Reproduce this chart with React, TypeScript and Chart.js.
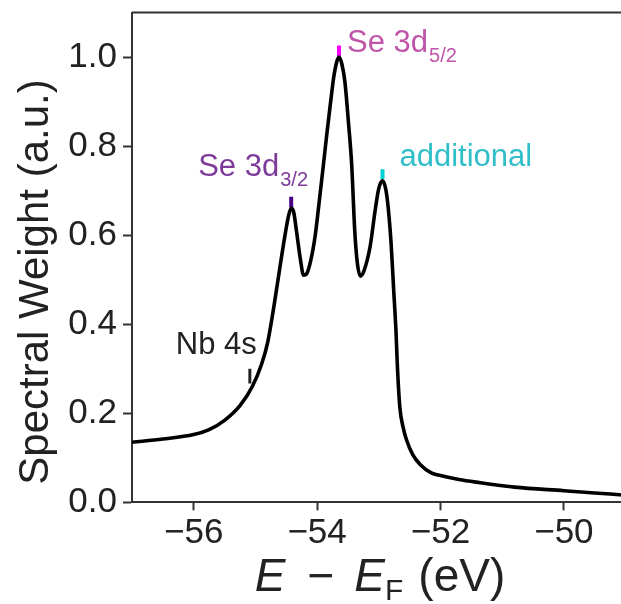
import React, { useEffect, useRef } from "react";
import { Chart, registerables } from "chart.js";

Chart.register(...registerables);

// Core-level photoemission spectrum (energy relative to E_F, in eV)
const energy = [
  -57.0, -56.5, -56.0, -55.75, -55.5, -55.25, -55.05, -54.9, -54.8, -54.7,
  -54.6, -54.52, -54.46, -54.42, -54.38, -54.33, -54.27, -54.22, -54.17, -54.1,
  -54.03, -53.97, -53.9, -53.84, -53.78, -53.73, -53.68, -53.645, -53.6, -53.55,
  -53.49, -53.44, -53.39, -53.35, -53.3, -53.24, -53.14, -53.06, -53.0, -52.94,
  -52.89, -52.85, -52.8, -52.76, -52.72, -52.7, -52.66, -52.6, -52.55, -52.45,
  -52.33, -52.15, -52.0, -51.7, -51.36, -50.8, -50.0, -49.5, -49.0,
];
const weight = [
  0.135, 0.142, 0.152, 0.163, 0.184, 0.217, 0.26, 0.31, 0.36, 0.44,
  0.53, 0.6, 0.645, 0.66, 0.652, 0.605, 0.545, 0.51, 0.513, 0.545,
  0.6, 0.67, 0.755, 0.83, 0.9, 0.955, 0.99, 1.0, 0.985, 0.945,
  0.85, 0.76, 0.61, 0.54, 0.508, 0.52, 0.575, 0.655, 0.705, 0.722,
  0.705, 0.665, 0.58, 0.48, 0.38, 0.31, 0.215, 0.165, 0.14, 0.107,
  0.085, 0.066, 0.06, 0.051, 0.044, 0.034, 0.026, 0.021, 0.016,
];

const xTicks = [-56, -54, -52, -50];
const yTicks = [0, 0.2, 0.4, 0.6, 0.8, 1.0];

// Peak markers: energy position and the short vertical bar above each feature
const markerMain = ["Nb 4s", "Se 3d", "Se 3d", "additional"];
const markerSub = ["", "3/2", "5/2", ""];
const markerEnergy = [-55.09, -54.42, -53.645, -52.94];
const markerLow = [0.267, 0.662, 1.002, 0.726];
const markerHigh = [0.3, 0.686, 1.026, 0.748];
const markerColors = ["#222222", "#4b0082", "#ff00ff", "#00cfd4"];
const labelColors = ["#222222", "#7d3a98", "#bf54a8", "#30bec8"];

// Text placement relative to the top of each marker bar (px)
const labelOffset = [
  { dx: -74, dy: -15 },
  { dx: -93, dy: -21 },
  { dx: 8, dy: 7 },
  { dx: 17, dy: -3 },
];

const FONT = "'Liberation Sans', Arial, Helvetica, sans-serif";
const INK = "#222222";

const zeroPadding = (s: any) => {
  s.paddingTop = 0;
  s.paddingBottom = 0;
  s.paddingLeft = 0;
  s.paddingRight = 0;
};

const decorations = {
  id: "decorations",
  afterDatasetsDraw(chart: any) {
    const { ctx, chartArea, scales } = chart;
    const xs = scales.x;
    const ys = scales.y;
    ctx.save();

    // top and right spines
    ctx.strokeStyle = "#333333";
    ctx.lineWidth = 2;
    ctx.beginPath();
    ctx.moveTo(chartArea.left, chartArea.top);
    ctx.lineTo(chartArea.right, chartArea.top);
    ctx.lineTo(chartArea.right, chartArea.bottom);
    ctx.stroke();

    // peak labels
    ctx.textBaseline = "alphabetic";
    ctx.textAlign = "left";
    markerMain.forEach((txt, i) => {
      const px = xs.getPixelForValue(markerEnergy[i]);
      const py = ys.getPixelForValue(markerHigh[i]);
      const x = px + labelOffset[i].dx;
      const y = py + labelOffset[i].dy;
      ctx.fillStyle = labelColors[i];
      ctx.font = `31px ${FONT}`;
      ctx.fillText(txt, x, y);
      if (markerSub[i]) {
        const w = ctx.measureText(txt).width;
        ctx.font = `20px ${FONT}`;
        ctx.fillText(markerSub[i], x + w + 1, y + 10);
      }
    });

    // y axis title
    ctx.fillStyle = INK;
    ctx.font = `42px ${FONT}`;
    ctx.save();
    ctx.translate(48, 282);
    ctx.rotate(-Math.PI / 2);
    ctx.textAlign = "center";
    ctx.fillText("Spectral Weight (a.u.)", 0, 0);
    ctx.restore();

    // x axis title: E − E_F (eV)
    const parts = [
      { t: "E", f: `italic 46px ${FONT}`, dy: 0, gap: 22 },
      { t: "\u2212", f: `46px ${FONT}`, dy: 0, gap: 20 },
      { t: "E", f: `italic 46px ${FONT}`, dy: 0, gap: 0 },
      { t: "F", f: `30px ${FONT}`, dy: 9, gap: 15 },
      { t: "(eV)", f: `46px ${FONT}`, dy: 0, gap: 0 },
    ];
    let total = 0;
    const widths = parts.map((p) => {
      ctx.font = p.f;
      const w = ctx.measureText(p.t).width;
      total += w + p.gap;
      return w;
    });
    let cx = 380 - total / 2;
    ctx.textAlign = "left";
    parts.forEach((p, i) => {
      ctx.font = p.f;
      ctx.fillText(p.t, cx, 591 + p.dy);
      cx += widths[i] + p.gap;
    });

    ctx.restore();
  },
};

export default function App() {
  const canvasRef = useRef<HTMLCanvasElement | null>(null);

  useEffect(() => {
    if (!canvasRef.current) return;
    const spectrum = energy.map((e, i) => ({ x: e, y: weight[i] }));
    const markerSets = markerEnergy.map((e, i) => ({
      data: [
        { x: e, y: markerLow[i] },
        { x: e, y: markerHigh[i] },
      ],
      borderColor: markerColors[i],
      borderWidth: i === 0 ? 3 : 4,
      borderCapStyle: "butt" as const,
      pointRadius: 0,
      tension: 0,
    }));

    const chart = new Chart(canvasRef.current, {
      type: "line",
      data: {
        datasets: [
          {
            data: spectrum,
            borderColor: "#000000",
            borderWidth: 3.6,
            pointRadius: 0,
            cubicInterpolationMode: "monotone",
          },
          ...markerSets,
        ],
      },
      options: {
        responsive: false,
        animation: false,
        layout: { padding: { top: 12.5, right: 4.4, left: 0, bottom: 0 } },
        plugins: {
          legend: { display: false },
          tooltip: { enabled: false },
        },
        scales: {
          x: {
            type: "linear",
            min: -57,
            max: -49,
            afterFit: (s: any) => {
              s.height = 101.7;
              zeroPadding(s);
            },
            afterBuildTicks: (s: any) => {
              s.ticks = xTicks.map((v) => ({ value: v }));
            },
            grid: {
              drawOnChartArea: false,
              drawTicks: true,
              tickLength: 8,
              tickWidth: 2,
              tickColor: "#333333",
            },
            border: { display: true, color: "#333333", width: 2 },
            ticks: {
              color: INK,
              padding: 2,
              maxRotation: 0,
              font: { size: 35, family: FONT },
              callback: (v: any) => "\u2212" + Math.abs(Number(v)),
            },
          },
          y: {
            type: "linear",
            min: 0,
            max: 1.1,
            afterFit: (s: any) => {
              s.width = 132;
              zeroPadding(s);
            },
            afterBuildTicks: (s: any) => {
              s.ticks = yTicks.map((v) => ({ value: v }));
            },
            grid: {
              drawOnChartArea: false,
              drawTicks: true,
              tickLength: 9,
              tickWidth: 2,
              tickColor: "#333333",
            },
            border: { display: true, color: "#333333", width: 2 },
            ticks: {
              color: INK,
              padding: 6,
              font: { size: 35, family: FONT },
              callback: (v: any) => Number(v).toFixed(1),
            },
          },
        },
      },
      plugins: [decorations],
    });
    return () => chart.destroy();
  }, []);

  return (
    <div
      style={{
        position: "fixed",
        left: 0,
        top: 0,
        width: 621,
        height: 604,
        overflow: "hidden",
        background: "#ffffff",
      }}
    >
      <canvas ref={canvasRef} width={630} height={604} style={{ width: 630, height: 604, display: "block" }} />
    </div>
  );
}
